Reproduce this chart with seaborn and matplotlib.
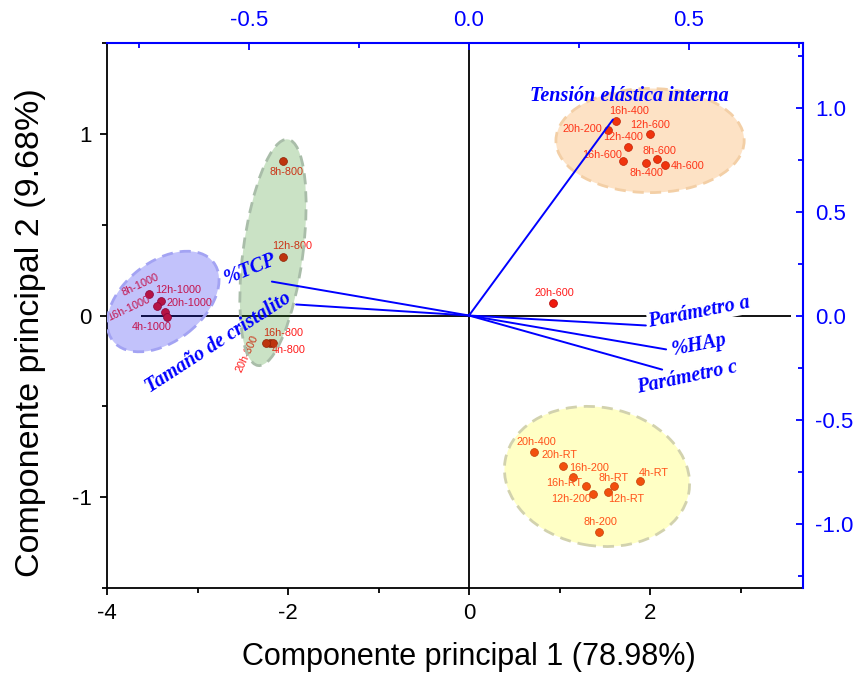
import numpy as np
import pandas as pd
import matplotlib
matplotlib.use("Agg")
import matplotlib.pyplot as plt
import seaborn as sns
from matplotlib.patches import Ellipse
from matplotlib.transforms import Affine2D
from matplotlib.ticker import MultipleLocator, FormatStrFormatter

sns.set_style("white")
plt.rcParams["font.family"] = ["Liberation Sans", "DejaVu Sans"]
plt.rcParams["axes.unicode_minus"] = False
plt.rcParams["text.color"] = "black"
plt.rcParams["axes.labelcolor"] = "black"
plt.rcParams["xtick.color"] = "black"
plt.rcParams["ytick.color"] = "black"

# Scores of each sample on the first two principal components
samples = ["8h-1000", "12h-1000", "16h-1000", "20h-1000", "4h-1000",
           "8h-800", "12h-800", "16h-800", "4h-800", "20h-800",
           "16h-400", "20h-200", "12h-600", "12h-400", "8h-600", "4h-600", "8h-400", "16h-600",
           "20h-600",
           "20h-400", "20h-RT", "16h-200", "16h-RT", "12h-200", "8h-RT", "12h-RT", "4h-RT", "8h-200"]
pc1 = [-3.54, -3.40, -3.45, -3.36, -3.34,
       -2.06, -2.06, -2.20, -2.17, -2.24,
       1.62, 1.54, 2.00, 1.76, 2.08, 2.17, 1.96, 1.70,
       0.93,
       0.72, 1.04, 1.15, 1.29, 1.37, 1.60, 1.53, 1.89, 1.44]
pc2 = [0.12, 0.08, 0.05, 0.02, -0.01,
       0.85, 0.32, -0.15, -0.15, -0.15,
       1.07, 1.02, 1.00, 0.93, 0.86, 0.83, 0.84, 0.85,
       0.07,
       -0.75, -0.83, -0.89, -0.94, -0.98, -0.94, -0.97, -0.91, -1.19]
groups = ["A"] * 5 + ["B"] * 5 + ["C"] * 8 + ["D"] + ["E"] * 9

# Loadings of the original variables (secondary axes)
variables = ["Tensión elástica interna", "%TCP", "Tamaño de cristalito",
             "Parámetro a", "%HAp", "Parámetro c"]
load1 = [0.327, -0.448, -0.393, 0.402, 0.448, 0.439]
load2 = [0.942, 0.163, 0.053, -0.048, -0.163, -0.260]

df = pd.DataFrame({"muestra": samples, "CP1": pc1, "CP2": pc2, "grupo": groups})

# label placement for the sample names: offset in pixels and rotation
label_style = {
    "8h-1000": (-8, 9, 25), "12h-1000": (17, 11, 0), "16h-1000": (-28, -2, 25),
    "20h-1000": (25, 9, 0), "4h-1000": (-15, -10, 0),
    "8h-800": (4, -11, 0), "12h-800": (10, 11, 0), "16h-800": (13, 10, 0),
    "4h-800": (16, -7, 0), "20h-800": (-19, -11, 65),
    "16h-400": (13, 10, 0), "20h-200": (-26, 1, 0), "12h-600": (0, 9, 0),
    "12h-400": (-5, 10, 0), "8h-600": (2, 8, 0), "4h-600": (22, -1, 0),
    "8h-400": (0, -10, 0), "16h-600": (-21, 6, 0),
    "20h-600": (1, 10, 0),
    "20h-400": (2, 10, 0), "20h-RT": (-4, 11, 0), "16h-200": (16, 9, 0),
    "16h-RT": (-22, 3, 0), "12h-200": (-22, -5, 0), "8h-RT": (0, 8, 0),
    "12h-RT": (19, -7, 0), "4h-RT": (14, 8, 0), "8h-200": (1, 10, 0),
}

# group ellipses: centre (data), width/height in x-units, screen angle, colours
ellipse_style = {
    "A": dict(xy=(-3.38, 0.077), w=1.41, h=0.88, ang=38, fc=(0.0, 0.0, 0.94), ec="#a3a3f3"),
    "B": dict(xy=(-2.166, 0.347), w=2.52, h=0.66, ang=82.5, fc=(0.14, 0.53, 0.06), ec="#a9bda9"),
    "C": dict(xy=(2.00, 0.963), w=2.08, h=1.15, ang=0, fc=(0.97, 0.53, 0.06), ec="#f3cfa6"),
    "E": dict(xy=(1.414, -0.886), w=2.06, h=1.53, ang=-10, fc=(1.0, 1.0, 0.06), ec="#d2d2ae"),
}

BLUE = "#0000ff"
W, H = 858, 678
fig = plt.figure(figsize=(W / 100, H / 100), dpi=100)
ax_rect = [107 / W, 1 - 588 / H, 696 / W, 545 / H]
ax = fig.add_axes(ax_rect)
ax.set_xlim(-4, 3.69)
ax.set_ylim(-1.5, 1.5)

# reference lines through the origin
ax.hlines(0, -3.62, 3.56, color="black", lw=1.3, zorder=1)
ax.axvline(0, color="black", lw=1.3, zorder=1)

# sample scores
sns.scatterplot(data=df, x="CP1", y="CP2", ax=ax, color="#ee1a0e", s=32,
                edgecolor="#b00000", linewidth=0.5, legend=False, zorder=3)
for _, r in df.iterrows():
    dx, dy, rot = label_style[r["muestra"]]
    ax.annotate(r["muestra"], (r["CP1"], r["CP2"]), xytext=(dx, dy),
                textcoords="offset pixels", ha="center", va="center",
                rotation=rot, fontsize=7.8, color="#ff1a1a", zorder=3)

# confidence ellipses drawn in screen-isotropic units
px_x = 696 / (3.69 + 4)
px_y = 545 / 3.0
yscale = px_x / px_y
for g, e in ellipse_style.items():
    tr = Affine2D().scale(1, yscale).translate(*e["xy"]) + ax.transData
    ax.add_patch(Ellipse((0, 0), e["w"], e["h"], angle=e["ang"], transform=tr,
                         facecolor=(*e["fc"], 0.24), edgecolor="none", zorder=4))
    ax.add_patch(Ellipse((0, 0), e["w"], e["h"], angle=e["ang"], transform=tr,
                         facecolor="none", edgecolor=e["ec"], lw=2.0,
                         linestyle=(0, (4, 2.5)), zorder=4))

ax.set_xlabel("Componente principal 1 (78.98%)", fontsize=22, color="black")
ax.set_ylabel("Componente principal 2 (9.68%)", fontsize=24.5, color="black")
ax.xaxis.set_label_coords(0.52, -0.10)
ax.yaxis.set_label_coords(-0.088, 0.468)
ax.xaxis.set_major_locator(MultipleLocator(2))
ax.xaxis.set_minor_locator(MultipleLocator(1))
ax.yaxis.set_major_locator(MultipleLocator(1))
ax.yaxis.set_minor_locator(MultipleLocator(0.5))
ax.tick_params(which="both", direction="out", bottom=True, left=True,
               top=False, right=False, labelsize=16, width=1.3, color="black",
               labelcolor="black", pad=6)
ax.tick_params(which="major", length=5)
ax.tick_params(which="minor", length=3.5)
for s in ["top", "right"]:
    ax.spines[s].set_visible(False)
for s in ["left", "bottom"]:
    ax.spines[s].set_color("black")
    ax.spines[s].set_linewidth(1.3)

# loadings on secondary top/right axes
ax2 = fig.add_axes(ax_rect, facecolor="none")
ax2.set_xlim(-362 / 440, 334 / 440)
ax2.set_ylim(-272.5 / 208, 272.5 / 208)
ax2.xaxis.tick_top()
ax2.yaxis.tick_right()
ax2.xaxis.set_major_locator(MultipleLocator(0.5))
ax2.xaxis.set_minor_locator(MultipleLocator(0.25))
ax2.yaxis.set_major_locator(MultipleLocator(0.5))
ax2.yaxis.set_minor_locator(MultipleLocator(0.25))
ax2.xaxis.set_major_formatter(FormatStrFormatter("%.1f"))
ax2.yaxis.set_major_formatter(FormatStrFormatter("%.1f"))
ax2.tick_params(which="both", direction="in", top=True, right=True, bottom=False,
                left=False, labeltop=True, labelright=True, labelbottom=False,
                labelleft=False, colors=BLUE, labelsize=16, width=1.3, pad=9)
ax2.tick_params(which="major", length=5)
ax2.tick_params(which="minor", length=3.5)
for s in ["left", "bottom"]:
    ax2.spines[s].set_visible(False)
for s in ["top", "right"]:
    ax2.spines[s].set_color(BLUE)
    ax2.spines[s].set_linewidth(1.5)

for lx, ly in zip(load1, load2):
    ax2.plot([0, lx], [0, ly], color=BLUE, lw=1.4, zorder=2)

var_text = {
    "Tensión elástica interna": (0.364, 1.053, 0, None),
    "%TCP": (-0.498, 0.221, 22, None),
    "Tamaño de cristalito": (-0.570, -0.130, 33, None),
    "Parámetro a": (0.523, 0.014, 11, "white"),
    "%HAp": (0.523, -0.140, 11, None),
    "Parámetro c": (0.495, -0.298, 12, None),
}
for name in variables:
    tx, ty, rot, bg = var_text[name]
    kw = {}
    if bg:
        kw["bbox"] = dict(facecolor=bg, edgecolor="none", pad=0.5)
    ax2.text(tx, ty, name, rotation=rot, ha="center", va="center",
             family=["Liberation Serif", "DejaVu Serif"], style="italic",
             weight="bold", fontsize=14.5, color=BLUE, zorder=5,
             rotation_mode="anchor", **kw)

fig.savefig("out.png", dpi=100)
